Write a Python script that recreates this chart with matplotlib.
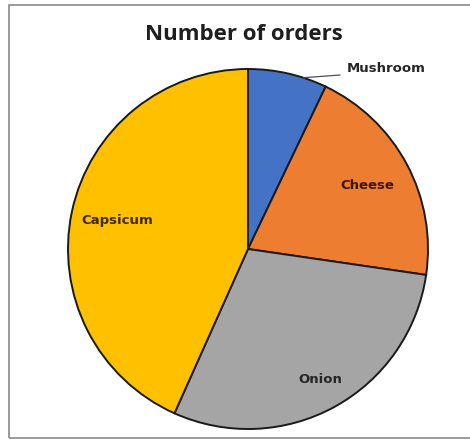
import numpy as np
import matplotlib.pyplot as plt
from matplotlib.patches import Rectangle

# Data (share of orders, clockwise from 12 o'clock)
toppings = ['Mushroom', 'Cheese', 'Onion', 'Capsicum']
orders = [7.1, 20.2, 29.4, 43.3]
colors = ['#4472C4', '#ED7D31', '#A5A5A5', '#FFC000']

W, H = 470, 440
fig = plt.figure(figsize=(W / 100, H / 100), dpi=100)
ax = fig.add_axes([0, 0, 1, 1])

cx, cy, R = 248, H - 249, 180
wedges, _ = ax.pie(orders, colors=colors, startangle=90, counterclock=False,
                   center=(cx, cy), radius=R,
                   wedgeprops=dict(edgecolor='#1a1a1a', linewidth=1.4))
ax.set_xlim(0, W)
ax.set_ylim(0, H)
ax.set_aspect('equal')
ax.axis('off')

lab_font = dict(fontsize=9.5, fontweight='bold', family='DejaVu Sans')

# labels inside the slices, at each wedge's mid angle
label_r = {'Cheese': 0.75, 'Onion': 0.83, 'Capsicum': 0.745}
label_c = {'Cheese': '#3d1500', 'Onion': '#262626', 'Capsicum': '#3a2a05'}
for w, name in zip(wedges, toppings):
    if name in label_r:
        mid = np.deg2rad((w.theta1 + w.theta2) / 2)
        r = label_r[name] * R
        ax.text(cx + r * np.cos(mid), cy + r * np.sin(mid), name,
                ha='center', va='center', color=label_c[name], **lab_font)
    else:
        # small slice: label outside with a leader line
        a = np.deg2rad(w.theta1 + 0.3 * (w.theta2 - w.theta1))
        ex, ey = cx + R * np.cos(a), cy + R * np.sin(a)
        ax.annotate(name, xy=(ex, ey), xytext=(347, H - 68),
                    ha='left', va='center', color='#262626', **lab_font,
                    arrowprops=dict(arrowstyle='-', color='#505050', lw=0.9,
                                    relpos=(0, 0), shrinkA=3, shrinkB=0))

fig.text(244 / W, 1 - 35 / H, 'Number of orders', ha='center', va='center',
         fontsize=16, fontweight='bold', family='Open Sans', color='#1e1e1e')

# chart frame (right side runs off the picture)
fig.patches.append(Rectangle((9 / W, 2 / H), 1.2, 1 - 5 / H - 2 / H,
                             transform=fig.transFigure, fill=False,
                             edgecolor='#8a8a8a', linewidth=1.2))

fig.savefig('out.png', dpi=100)
